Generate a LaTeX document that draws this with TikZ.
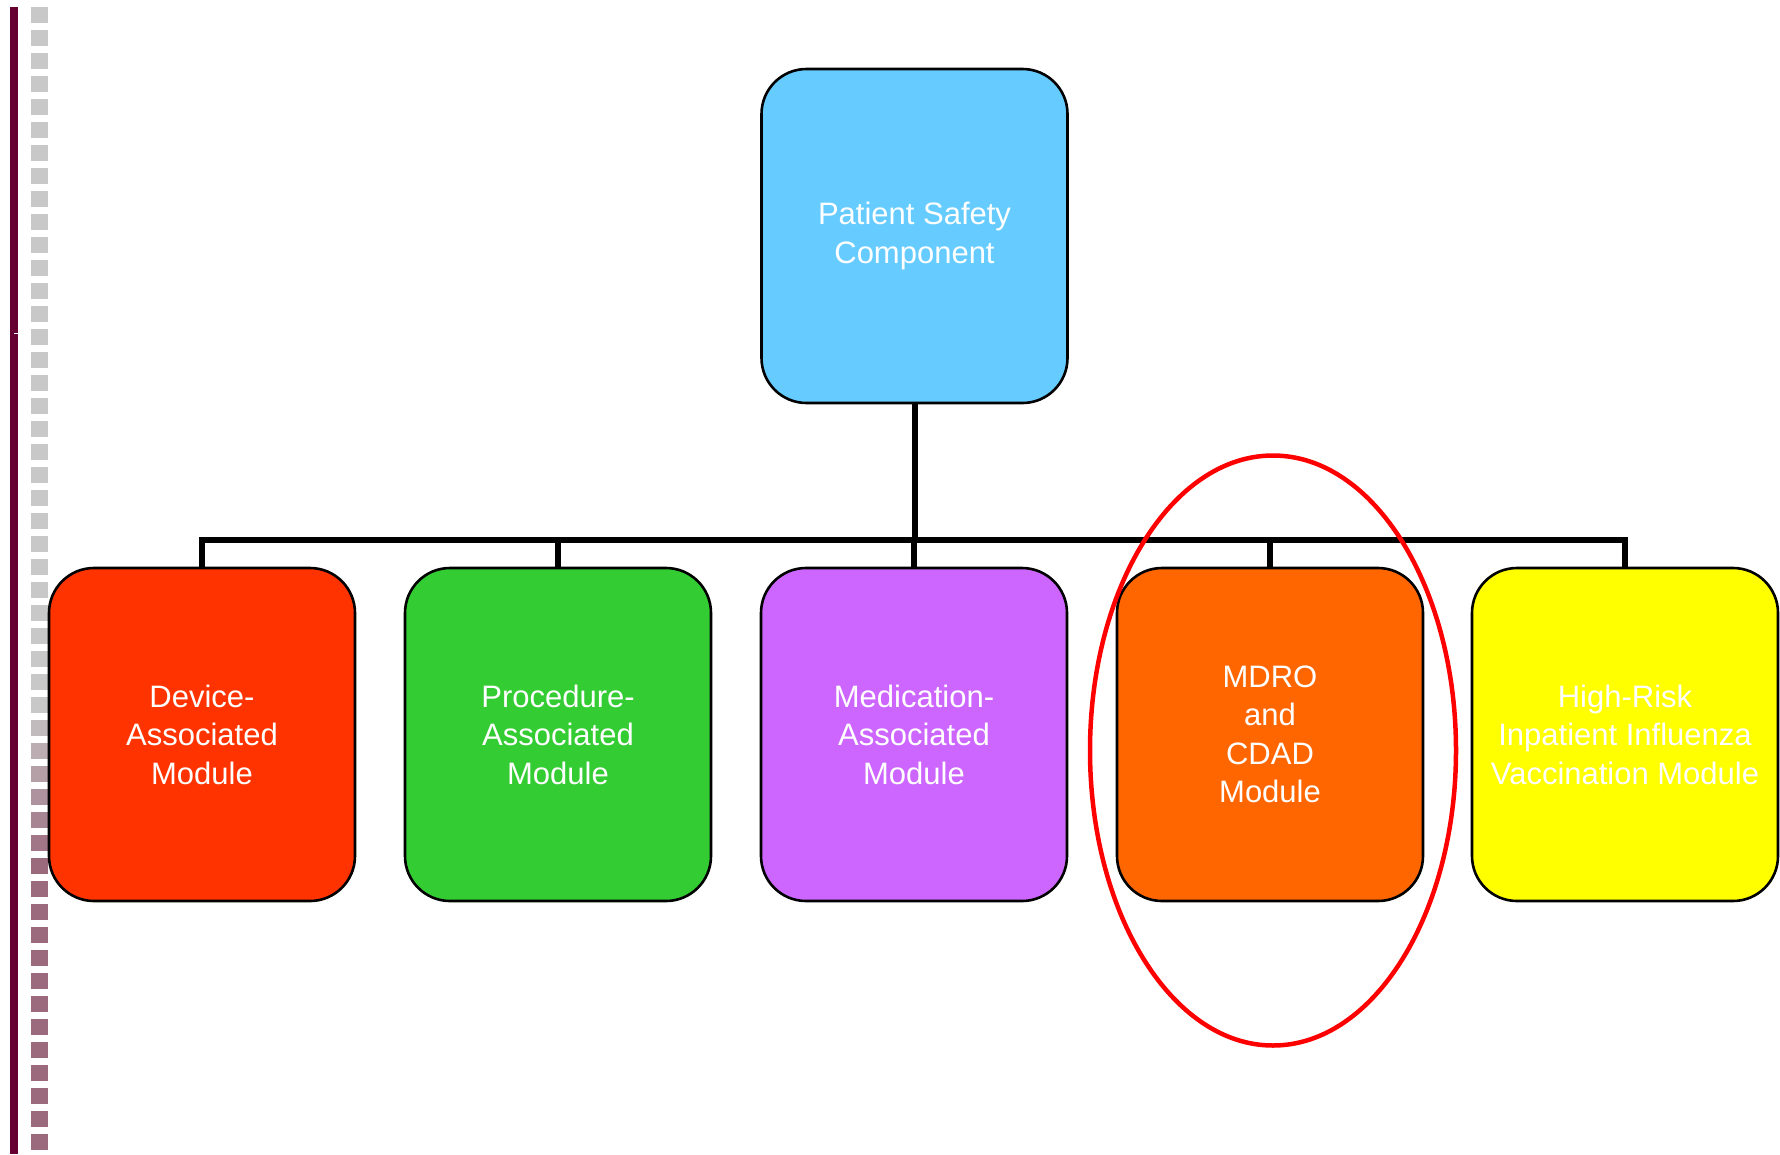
\documentclass[tikz,border=0pt]{standalone}
\usepackage{fontspec}
\setmainfont{Liberation Sans}
\usetikzlibrary{shapes.geometric}
\definecolor{barcol}{RGB}{102,0,51}
\definecolor{sqgray}{RGB}{200,200,200}
\definecolor{sqmauve}{RGB}{155,106,125}
\definecolor{cblue}{HTML}{66CCFF}
\definecolor{cred}{HTML}{FF3300}
\definecolor{cgreen}{HTML}{33CC33}
\definecolor{cpurple}{HTML}{CC66FF}
\definecolor{corange}{HTML}{FF6600}
\definecolor{cyellow}{HTML}{FFFF00}
\definecolor{hlred}{HTML}{FF0000}
\tikzset{
  modbox/.style={draw=black, line width=2.6pt, rounded corners=45pt,
    minimum width=306pt, minimum height=333pt, inner sep=0pt,
    text=white, align=center,
    font=\fontsize{31}{38.5}\selectfont},
  conn/.style={draw=black, line width=6pt},
  hilite/.style={ellipse, draw=hlred, line width=4.5pt, inner sep=0pt,
    minimum width=366pt, minimum height=590pt}
}
\begin{document}
\begin{tikzpicture}[x=1pt,y=-1pt]
\useasboundingbox[fill=white] (0,0) rectangle (1780,1154);
% left decoration
\fill[barcol] (10,7) rectangle (18,1154);
\draw[white, line width=1pt] (14,333) -- (18,333);
\foreach \i in {0,...,49}{
  \pgfmathsetmacro{\p}{min(100,max(0,(\i-30)/7*100))}
  \pgfmathsetmacro{\yt}{7.3+23*\i}
  \fill[sqmauve!\p!sqgray] (31,\yt) rectangle (48,\yt+15.5);
}
% nodes
\node[modbox, fill=cblue, minimum height=334pt] (top) at (914.5,236) {Patient Safety\\Component};
\node[modbox, fill=cred] (b1) at (202,734.5) {Device-\\Associated\\Module};
\node[modbox, fill=cgreen] (b2) at (558,734.5) {Procedure-\\Associated\\Module};
\node[modbox, fill=cpurple] (b3) at (914,734.5) {Medication-\\Associated\\Module};
\node[modbox, fill=corange] (b4) at (1270,734.5) {MDRO\\and\\CDAD\\Module};
\node[modbox, fill=cyellow] (b5) at (1625,734.5) {High-Risk\\Inpatient Influenza\\Vaccination Module};
% connectors
\coordinate (bus) at (914.5,540);
\draw[conn] (top.south) -- (bus);
\draw[conn] (b1.north) |- (bus) -| (b5.north);
\draw[conn] (b2.north) -- (b2.north |- bus);
\draw[conn] (b3.north) -- (b3.north |- bus);
\draw[conn] (b4.north) -- (b4.north |- bus);
% highlight
\node[hilite] (hl) at (1273,750.5) {};
\end{tikzpicture}
\end{document}
